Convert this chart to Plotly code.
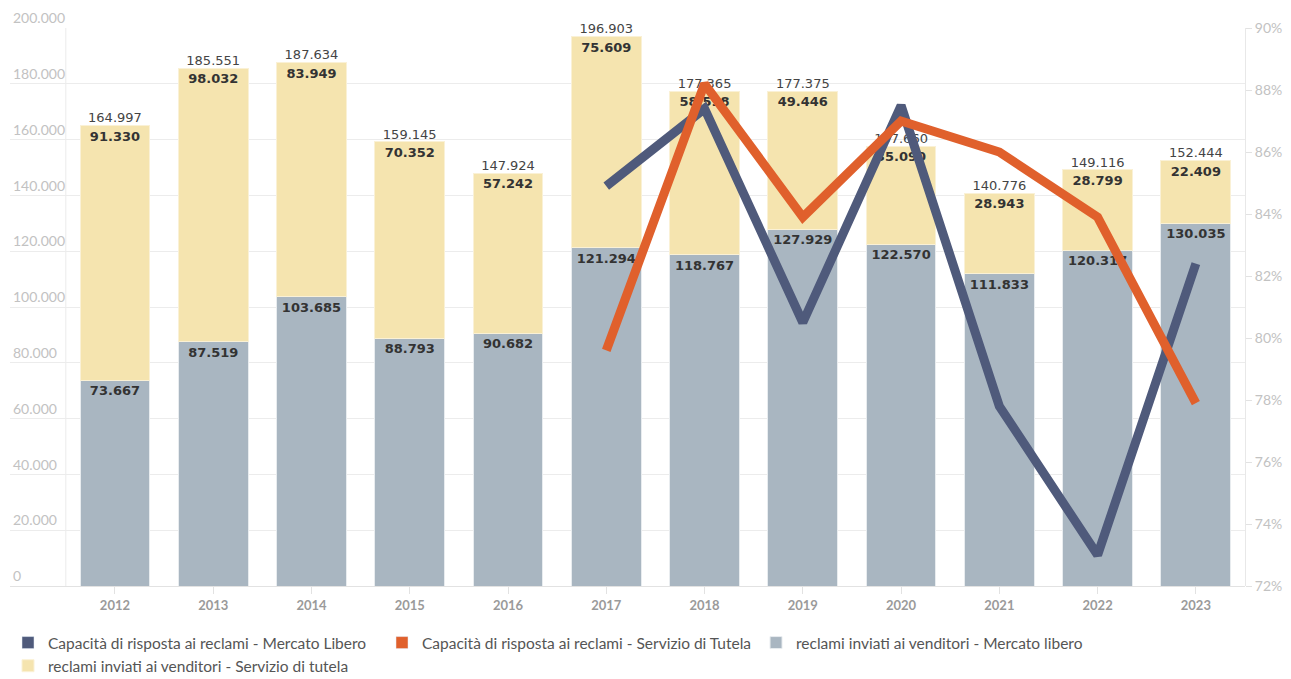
import plotly.graph_objects as go

years = ["2012", "2013", "2014", "2015", "2016", "2017", "2018", "2019", "2020", "2021", "2022", "2023"]
mercato_libero = [73667, 87519, 103685, 88793, 90682, 121294, 118767, 127929, 122570, 111833, 120317, 130035]
servizio_tutela = [91330, 98032, 83949, 70352, 57242, 75609, 58598, 49446, 35090, 28943, 28799, 22409]
totals = [164997, 185551, 187634, 159145, 147924, 196903, 177365, 177375, 157660, 140776, 149116, 152444]
cap_libero = [None, None, None, None, None, 84.9, 87.4, 80.5, 87.5, 77.8, 73.0, 82.4]
cap_tutela = [None, None, None, None, None, 79.6, 88.2, 83.9, 87.0, 86.0, 83.9, 77.9]

names = [
    "Capacità di risposta ai reclami - Mercato Libero",
    "Capacità di risposta ai reclami - Servizio di Tutela",
    "reclami inviati ai venditori - Mercato libero",
    "reclami inviati ai venditori - Servizio di tutela",
]

C_NAVY = "#4f5a7b"
C_ORANGE = "#e0602c"
C_GRAY = "#a9b6c1"
C_YELLOW = "#f5e4af"


def fmt(v):
    return f"{v:,}".replace(",", ".")


fig = go.Figure()

# legend-only swatches for the lines
for nm, col in [(names[0], C_NAVY), (names[1], C_ORANGE)]:
    fig.add_trace(go.Bar(x=[None], y=[None], name=nm, marker=dict(color=col), showlegend=True))

fig.add_trace(go.Bar(
    x=years, y=mercato_libero, name=names[2],
    marker=dict(color=C_GRAY, line=dict(color="#e8ecef", width=1)),
    text=[fmt(v) for v in mercato_libero], textposition="inside", insidetextanchor="end",
    textangle=0, constraintext="none",
    insidetextfont=dict(family="DejaVu Sans", size=13, color="#333333", weight="bold"),
))
fig.add_trace(go.Bar(
    x=years, y=servizio_tutela, name=names[3],
    marker=dict(color=C_YELLOW, line=dict(color="#faf1d6", width=1)),
    text=[fmt(v) for v in servizio_tutela], textposition="inside", insidetextanchor="end",
    textangle=0, constraintext="none",
    insidetextfont=dict(family="DejaVu Sans", size=13, color="#333333", weight="bold"),
))
fig.add_trace(go.Scatter(
    x=years, y=totals, mode="text", text=[fmt(v) for v in totals], textposition="top center",
    textfont=dict(family="DejaVu Sans", size=13, color="#444444"), showlegend=False, hoverinfo="skip",
    cliponaxis=False,
))
fig.add_trace(go.Scatter(
    x=years, y=cap_libero, mode="lines", name=names[0], yaxis="y2", showlegend=False,
    line=dict(color=C_NAVY, width=9), connectgaps=False, cliponaxis=False,
))
fig.add_trace(go.Scatter(
    x=years, y=cap_tutela, mode="lines", name=names[1], yaxis="y2", showlegend=False,
    line=dict(color=C_ORANGE, width=9), connectgaps=False, cliponaxis=False,
))

fig.add_shape(type="line", xref="x", yref="paper", x0=-0.5, x1=-0.5, y0=0, y1=1,
              line=dict(color="#ececec", width=1), layer="below")

fig.update_layout(
    width=1283, height=671,
    margin=dict(l=2, r=46, t=20, b=93),
    paper_bgcolor="white", plot_bgcolor="white",
    barmode="stack", bargap=0.29,
    separators=",.",
    font=dict(family="Lato", color="#555555"),
    xaxis=dict(
        type="category", range=[-1.068, 11.5], automargin=False,
        showgrid=False, zeroline=False, showline=False,
        ticks="outside", ticklen=7, tickcolor="#e2e2e2",
        tickfont=dict(family="Lato", size=13, color="#9a9a9a", weight="bold"),
    ),
    yaxis=dict(
        range=[0, 200000], dtick=20000, tickformat=",.0f", automargin=False,
        showgrid=True, gridcolor="#ececec", gridwidth=1,
        zeroline=True, zerolinecolor="#e2e2e2", zerolinewidth=1,
        ticklabelposition="inside top", ticklabeloverflow="allow",
        tickfont=dict(family="Lato", size=14, color="#c2c2c2"),
    ),
    yaxis2=dict(
        overlaying="y", side="right", range=[72, 90], dtick=2, ticksuffix="%", automargin=False,
        showgrid=False, zeroline=False, showline=True, linecolor="#e8e8e8",
        ticks="outside", ticklen=6, tickcolor="#e2e2e2",
        tickfont=dict(family="Lato", size=14, color="#c2c2c2"),
    ),
    legend=dict(
        orientation="h", xref="container", x=0, xanchor="left",
        yref="container", y=0.079, yanchor="top", traceorder="normal",
        font=dict(family="Lato", size=15.5, color="#555555"),
        itemwidth=30, tracegroupgap=0,
    ),
    showlegend=True,
)

fig.write_html("out.html")
